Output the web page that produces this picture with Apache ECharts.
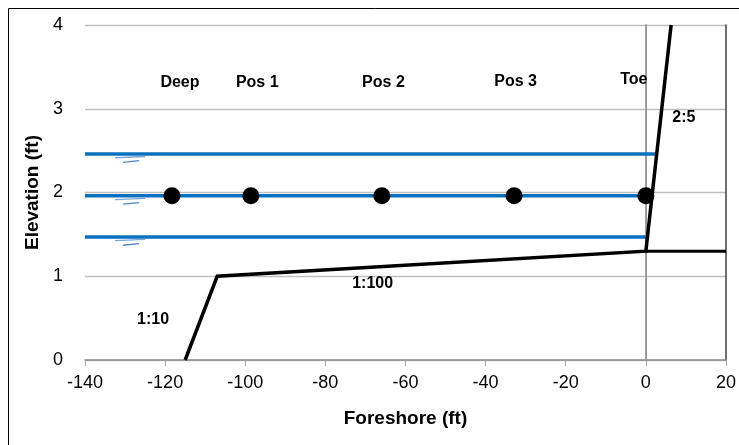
<!DOCTYPE html>
<html>
<head>
<meta charset="utf-8">
<script src="https://cdn.jsdelivr.net/npm/echarts@6/dist/echarts.min.js"></script>
<style>
  html, body { margin: 0; padding: 0; background: #fff; }
  #chart { width: 739px; height: 445px; }
</style>
</head>
<body>
<div id="chart"></div>
<script>
// Beach profile: foreshore distance (ft) vs elevation (ft)
const xTicks = [-140, -120, -100, -80, -60, -40, -20, 0, 20];
const yTicks = [0, 1, 2, 3, 4];

// Bottom profile segments (slope 1:10, then 1:100, then 2:5 structure face)
const profileX = [-115, -107, 0, 6.3];
const profileY = [0, 1.0, 1.3, 4.0];
// Crest / berm line beyond the toe
const bermX = [0, 20];
const bermY = [1.3, 1.3];

// Still water levels and where each meets the slope
const waterLevels = [2.46, 1.96, 1.47];
const waterStart = [-140, -140, -140];
const waterEnd = [2.8, 1.5, 0.3];

// Gauge positions along the middle water level
const gaugeNames = ['Deep', 'Pos 1', 'Pos 2', 'Pos 3', 'Toe'];
const gaugeX = [-118.3, -98.6, -65.9, -32.9, 0];
const gaugeY = [1.96, 1.96, 1.96, 1.96, 1.96];

// Text annotations
const noteText = ['Deep', 'Pos 1', 'Pos 2', 'Pos 3', 'Toe', '2:5', '1:100', '1:10'];
const noteX = [-116.3, -97, -65.5, -32.5, -3, 9.5, -68.2, -123];
const noteY = [3.31, 3.31, 3.31, 3.33, 3.35, 2.9, 0.91, 0.48];

const chart = echarts.init(document.getElementById('chart'), null, { renderer: 'canvas' });

const pairs = (xs, ys) => xs.map((x, i) => [x, ys[i]]);

const series = [];

// Vertical reference line at x = 0
series.push({
  type: 'line', data: [[0, 0], [0, 4]], symbol: 'none', silent: true,
  lineStyle: { color: '#a6a6a6', width: 1.5 }, z: 1
});

// Water level lines with small water-surface marks beneath
waterLevels.forEach((lvl, i) => {
  series.push({
    type: 'line', data: [[waterStart[i], lvl], [waterEnd[i], lvl]], symbol: 'none',
    lineStyle: { color: '#0a70c0', width: 3.5 }, z: 3
  });
  series.push({
    type: 'line', data: [[-132.5, lvl - 0.045], [-125, lvl - 0.03]], symbol: 'none',
    lineStyle: { color: '#7aa6d8', width: 1.3 }, z: 3
  });
  series.push({
    type: 'line', data: [[-130.5, lvl - 0.1], [-126.5, lvl - 0.08]], symbol: 'none',
    lineStyle: { color: '#4d87c8', width: 1.3 }, z: 3
  });
});

// Bottom profile
series.push({
  type: 'line', data: pairs(profileX, profileY), symbol: 'none',
  lineStyle: { color: '#000', width: 3.5, join: 'miter' }, z: 4
});
series.push({
  type: 'line', data: pairs(bermX, bermY), symbol: 'none',
  lineStyle: { color: '#000', width: 3 }, z: 4
});

// Gauges
series.push({
  type: 'scatter', data: pairs(gaugeX, gaugeY), symbol: 'circle', symbolSize: 17,
  itemStyle: { color: '#000', opacity: 1 }, z: 5
});

// Annotation labels
series.push({
  type: 'scatter', symbolSize: 1, silent: true, z: 6,
  itemStyle: { color: 'rgba(0,0,0,0)', opacity: 1 },
  data: noteText.map((t, i) => ({ value: [noteX[i], noteY[i]], name: t })),
  label: {
    show: true, position: 'inside', formatter: p => p.name,
    color: '#000', opacity: 1, fontFamily: 'Liberation Sans', fontWeight: 'bold', fontSize: 16
  }
});

chart.setOption({
  animation: false,
  backgroundColor: '#fff',
  graphic: [{
    type: 'rect', shape: { x: 8.5, y: 8.5, width: 760, height: 460 },
    style: { fill: 'none', stroke: '#000', lineWidth: 1 }, z: -1
  }],
  grid: { left: 85, right: 13, top: 25, bottom: 85, containLabel: false },
  xAxis: {
    type: 'value', min: xTicks[0], max: xTicks[xTicks.length - 1], interval: 20,
    name: 'Foreshore (ft)', nameLocation: 'middle', nameGap: 49,
    nameTextStyle: { fontFamily: 'Liberation Sans', fontWeight: 'bold', fontSize: 19, color: '#000' },
    axisLine: { lineStyle: { color: '#8c8c8c', width: 1.5 } },
    axisTick: { show: true, length: 6, lineStyle: { color: '#a6a6a6' } },
    axisLabel: { margin: 14, fontFamily: 'Liberation Sans', fontSize: 18, color: '#000' },
    splitLine: { show: false }
  },
  yAxis: [{
    type: 'value', min: yTicks[0], max: yTicks[yTicks.length - 1], interval: 1,
    name: 'Elevation (ft)', nameLocation: 'middle', nameGap: 36, nameRotate: 90,
    nameTextStyle: { fontFamily: 'Liberation Sans', fontWeight: 'bold', fontSize: 19, color: '#000' },
    axisLine: { show: true, lineStyle: { color: '#595959', width: 1.5 } },
    axisTick: { show: false },
    axisLabel: { margin: 22, fontFamily: 'Liberation Sans', fontSize: 18, color: '#000' },
    splitLine: { show: true, lineStyle: { color: '#bfbfbf', width: 1.3 } }
  }, {
    type: 'value', min: 0, max: 4, interval: 1, position: 'right',
    axisLine: { show: true, lineStyle: { color: '#404040', width: 1.5 } },
    axisTick: { show: false }, axisLabel: { show: false }, splitLine: { show: false }
  }],
  series: series
});
</script>
</body>
</html>
